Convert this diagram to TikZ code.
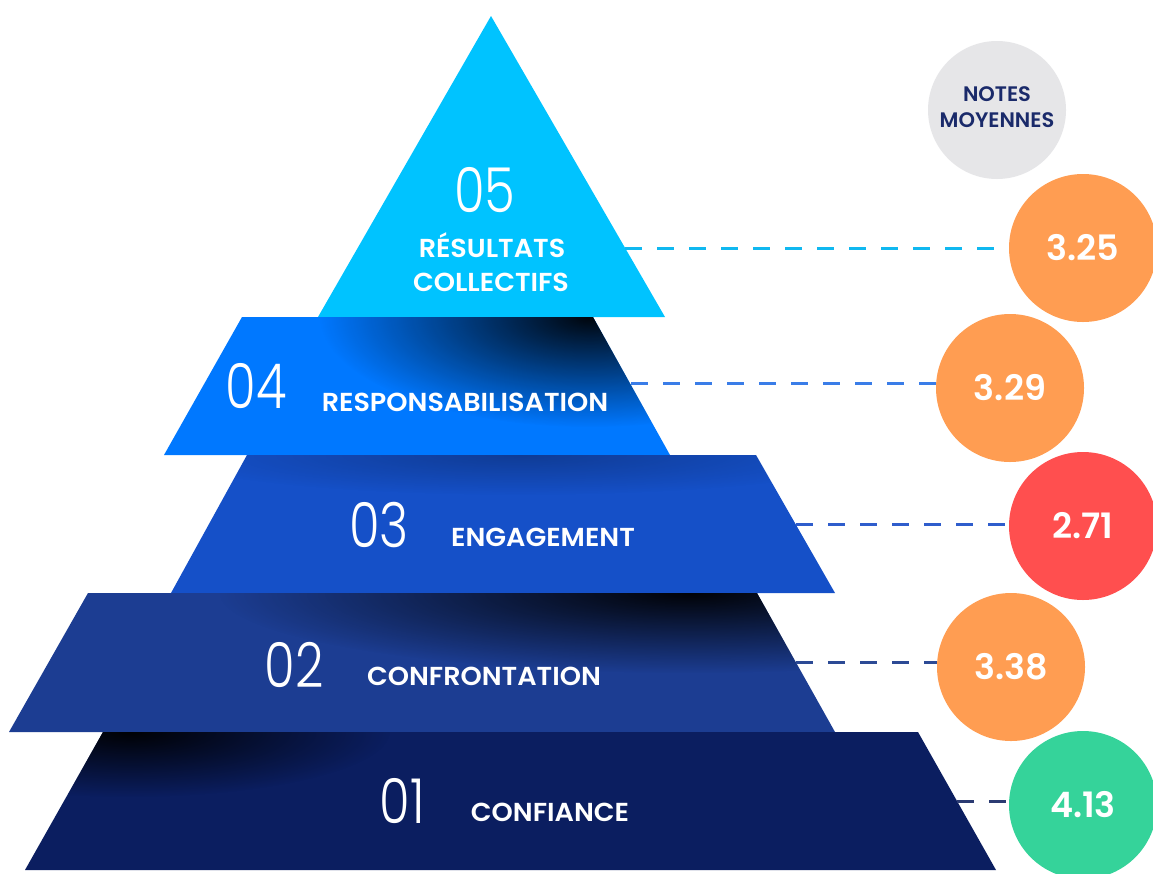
\documentclass[tikz,border=0pt]{standalone}
\usepackage{fontspec}
\setmainfont{Poppins}
\newfontfamily\numfont{Poppins Light}
\newfontfamily\labfont{Poppins SemiBold}
\usetikzlibrary{fadings,calc}
\definecolor{c5}{HTML}{00C3FF}
\definecolor{c4}{HTML}{0078FF}
\definecolor{c3}{HTML}{1550C8}
\definecolor{c2}{HTML}{1C3D92}
\definecolor{c1}{HTML}{0B1E60}
\definecolor{d5}{HTML}{10B8F0}
\definecolor{d4}{HTML}{3A7DE8}
\definecolor{d3}{HTML}{2F5DCC}
\definecolor{d2}{HTML}{2C4A95}
\definecolor{d1}{HTML}{2B3B72}
\definecolor{orangec}{HTML}{FF9D52}
\definecolor{redc}{HTML}{FF4F4F}
\definecolor{greenc}{HTML}{35D39A}
\definecolor{greyc}{HTML}{E6E6E8}
\definecolor{navy}{HTML}{1A2A6A}
\tikzfading[name=cornerfade, inner color=transparent!0, outer color=transparent!100]
\begin{document}
\begin{tikzpicture}[x=1pt,y=-1pt,
  tiernum/.style={font=\numfont\fontsize{62}{62}\selectfont, text=white, inner sep=0pt, anchor=base},
  tierlab/.style={font=\labfont\fontsize{26}{26}\selectfont, text=white, inner sep=0pt, anchor=base},
  score/.style={circle, minimum size=148pt, inner sep=0pt, text=white, font=\labfont\fontsize{35}{35}\selectfont},
  dashline/.style={line width=3pt, dash pattern=on 17pt off 15pt},
  shadowfill/.style={fill=black, path fading=cornerfade}
]
\useasboundingbox (0,0) rectangle (1153,873);
\clip (0,0) rectangle (1153,873);
\fill[white] (0,0) rectangle (1153,873);

% tier corners
\coordinate (t5a) at (491,16);
\coordinate (t5r) at (665,317);
\coordinate (t5l) at (318,317);
\coordinate (t4tl) at (242,317); \coordinate (t4tr) at (593,317);
\coordinate (t4br) at (670,455); \coordinate (t4bl) at (164,455);
\coordinate (t3tl) at (247,455); \coordinate (t3tr) at (756,455);
\coordinate (t3br) at (835,593); \coordinate (t3bl) at (171,593);
\coordinate (t2tl) at (88,593); \coordinate (t2tr) at (757,593);
\coordinate (t2br) at (835,732); \coordinate (t2bl) at (9,732);
\coordinate (t1tl) at (103,732); \coordinate (t1tr) at (918,732);
\coordinate (t1br) at (996,870); \coordinate (t1bl) at (25,870);

% tiers
\fill[c5] (t5a) -- (t5r) -- (t5l) -- cycle;

\fill[c4] (t4tl) -- (t4tr) -- (t4br) -- (t4bl) -- cycle;
\begin{scope}
  \clip (t4tl) -- (t4tr) -- (t4br) -- (t4bl) -- cycle;
  \fill[shadowfill, opacity=0.95] (590,317) ellipse [x radius=270, y radius=110];
\end{scope}

\fill[c3] (t3tl) -- (t3tr) -- (t3br) -- (t3bl) -- cycle;
\begin{scope}
  \clip (t3tl) -- (t3tr) -- (t3br) -- (t3bl) -- cycle;
  \fill[shadowfill, opacity=0.25] (520,455) ellipse [x radius=350, y radius=40];
\end{scope}

\fill[c2] (t2tl) -- (t2tr) -- (t2br) -- (t2bl) -- cycle;
\begin{scope}
  \clip (t2tl) -- (t2tr) -- (t2br) -- (t2bl) -- cycle;
  \fill[shadowfill, opacity=0.95] (690,593) ellipse [x radius=470, y radius=80];
\end{scope}

\fill[c1] (t1tl) -- (t1tr) -- (t1br) -- (t1bl) -- cycle;
\begin{scope}
  \clip (t1tl) -- (t1tr) -- (t1br) -- (t1bl) -- cycle;
  \fill[shadowfill, opacity=0.95] (130,732) ellipse [x radius=260, y radius=65];
\end{scope}

% tier texts
\node[tiernum] (n5) at (485,212) {\scalebox{0.8}[1]{05}};
\node[tierlab] (l5a) at (492,257) {\scalebox{1.04}[1]{RÉSULTATS}};
\node[tierlab] (l5b) at (491,291) {\scalebox{1.04}[1]{COLLECTIFS}};
\node[tiernum] (n4) at (256,408) {\scalebox{0.8}[1]{04}};
\node[tierlab] (l4) at (465,411) {\scalebox{1.04}[1]{RESPONSABILISATION}};
\node[tiernum] (n3) at (379,547) {\scalebox{0.8}[1]{03}};
\node[tierlab] (l3) at (543,546) {\scalebox{1.04}[1]{ENGAGEMENT}};
\node[tiernum] (n2) at (294,687) {\scalebox{0.8}[1]{02}};
\node[tierlab] (l2) at (484,685) {\scalebox{1.04}[1]{CONFRONTATION}};
\node[tiernum] (n1) at (402,823) {\scalebox{0.8}[1]{01}};
\node[tierlab] (l1) at (550,821) {\scalebox{1.04}[1]{CONFIANCE}};

% legend
\node[circle, fill=greyc, minimum size=138pt, inner sep=0pt] (notes) at (997,110) {};
\node[text=navy, font=\labfont\fontsize{21}{26}\selectfont, align=center, inner sep=0pt] (notestxt) at (997,107) {NOTES\\MOYENNES};

% score circles
\node[score, fill=orangec] (s5) at (1083,248) {3.25};
\node[score, fill=orangec] (s4) at (1010,388) {3.29};
\node[score, fill=redc] (s3) at (1083,526) {2.71};
\node[score, fill=orangec] (s2) at (1011,667) {3.38};
\node[score, fill=greenc] (s1) at (1083,805) {4.13};

% dashed connectors
\coordinate (e5) at (625,248);
\coordinate (e4) at (631,383);
\coordinate (e3) at (796,524);
\coordinate (e2) at (796,662);
\coordinate (e1) at (957,801);
\draw[dashline, d5] (e5) -- (e5 -| s5.west);
\draw[dashline, d4] (e4) -- (e4 -| s4.west);
\draw[dashline, d3] (e3) -- (e3 -| s3.west);
\draw[dashline, d2] (e2) -- (e2 -| s2.west);
\draw[dashline, d1] (e1) -- (e1 -| s1.west);
\end{tikzpicture}
\end{document}
